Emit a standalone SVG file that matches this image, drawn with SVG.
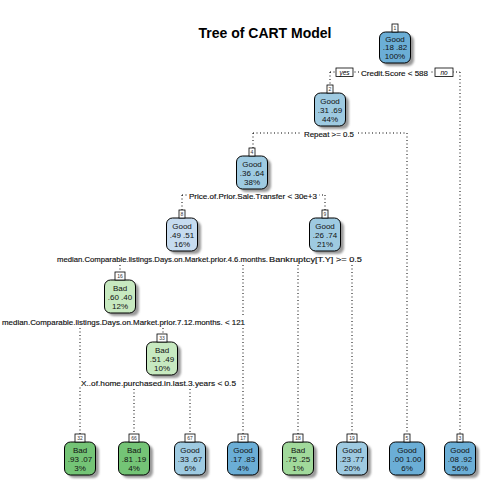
<svg xmlns="http://www.w3.org/2000/svg" width="504" height="504" viewBox="0 0 504 504">
<style>
.bg{fill:#ffffff}
.title{font-family:"Liberation Sans",Arial,sans-serif;font-size:14px;font-weight:bold;fill:#000;text-anchor:middle}
.box{stroke:#000;stroke-width:1}
.sh{fill:#9a9a9a;filter:url(#blur)}
.t{font-family:"Liberation Sans",Arial,sans-serif;font-size:8px;fill:#111;text-anchor:middle}
.lbl{fill:#fff;stroke:#000;stroke-width:0.8}
.n{font-family:"Liberation Sans",Arial,sans-serif;font-size:5px;fill:#333;text-anchor:middle}
.split{font-family:"Liberation Sans",Arial,sans-serif;font-size:7.5px;fill:#111;text-anchor:middle;stroke:#111;stroke-width:0.15}
.conn line{stroke:#000;stroke-width:1;stroke-dasharray:1 2.5}
.yn{fill:#fff;stroke:#000;stroke-width:0.8}
.ynt{font-family:"Liberation Sans",Arial,sans-serif;font-size:6.5px;font-style:italic;fill:#000;text-anchor:middle}
.wb{fill:#fff}
.b1{fill:#6BAED6}.b2{fill:#9ECAE1}.b3{fill:#C6DBEF}
.g1{fill:#74C476}.g2{fill:#A1D99B}.g3{fill:#C7E9C0}
</style>
<defs>
<filter id="blur" x="-20%" y="-20%" width="140%" height="140%"><feGaussianBlur stdDeviation="1.2"/></filter>
</defs>
<rect class="bg" x="0" y="0" width="504" height="504"/>
<text class="title" x="265" y="38">Tree of CART Model</text>

<g id="connectors" class="conn">
<line x1="330" y1="72" x2="460" y2="72"/>
<line x1="330" y1="72" x2="330" y2="85"/>
<line x1="460" y1="72" x2="460" y2="434"/>
<line x1="253" y1="133" x2="407" y2="133"/>
<line x1="253" y1="133" x2="253" y2="148"/>
<line x1="407" y1="133" x2="407" y2="434"/>
<line x1="182" y1="195" x2="325" y2="195"/>
<line x1="182" y1="195" x2="182" y2="210"/>
<line x1="325" y1="195" x2="325" y2="210"/>
<line x1="120" y1="258" x2="243" y2="258"/>
<line x1="120" y1="258" x2="120" y2="272"/>
<line x1="243" y1="258" x2="243" y2="434"/>
<line x1="298" y1="258" x2="352" y2="258"/>
<line x1="298" y1="258" x2="298" y2="434"/>
<line x1="352" y1="258" x2="352" y2="434"/>
<line x1="80" y1="321" x2="163" y2="321"/>
<line x1="80" y1="321" x2="80" y2="434"/>
<line x1="163" y1="321" x2="163" y2="334"/>
<line x1="134" y1="382" x2="190" y2="382"/>
<line x1="134" y1="382" x2="134" y2="434"/>
<line x1="190" y1="382" x2="190" y2="434"/>
</g>

<g id="split-labels">
<rect class="wb" x="359" y="68" width="71" height="9"/>
<text class="split" x="394.5" y="75.5" textLength="67" lengthAdjust="spacingAndGlyphs">Credit.Score &lt; 588</text>
<rect class="yn" x="336" y="68" width="17" height="8.5"/>
<text class="ynt" x="344.5" y="74.8">yes</text>
<rect class="yn" x="435" y="68" width="18" height="8.5"/>
<text class="ynt" x="444" y="74.8">no</text>
<rect class="wb" x="302" y="129" width="54" height="9"/>
<text class="split" x="329" y="136.5" textLength="50" lengthAdjust="spacingAndGlyphs">Repeat &gt;= 0.5</text>
<rect class="wb" x="187" y="191" width="132" height="9"/>
<text class="split" x="253" y="198.5" textLength="128" lengthAdjust="spacingAndGlyphs">Price.of.Prior.Sale.Transfer &lt; 30e+3</text>
<rect class="wb" x="55" y="254" width="310" height="9"/>
<text class="split" x="57" y="261.5" style="text-anchor:start" textLength="211" lengthAdjust="spacingAndGlyphs">median.Comparable.listings.Days.on.Market.prior.4.6.months.</text>
<text class="split" x="315.5" y="261.5" textLength="93" lengthAdjust="spacingAndGlyphs">Bankruptcy[T.Y] &gt;= 0.5</text>
<rect class="wb" x="0" y="317" width="248" height="9"/>
<text class="split" x="123.5" y="324.5" textLength="243" lengthAdjust="spacingAndGlyphs">median.Comparable.listings.Days.on.Market.prior.7.12.months. &lt; 121</text>
<rect class="wb" x="78" y="378" width="161" height="9"/>
<text class="split" x="158.5" y="385.5" textLength="155" lengthAdjust="spacingAndGlyphs">X..of.home.purchased.in.last.3.years &lt; 0.5</text>
</g>

<g id="node1">
<rect class="sh" x="383" y="35" width="31" height="31" rx="6"/>
<rect class="box b1" x="379.5" y="32" width="31" height="31" rx="6"/>
<text class="t" x="395" y="41.5">Good</text>
<text class="t" x="395" y="50">.18  .82</text>
<text class="t" x="395" y="58.5">100%</text>
<rect class="lbl" x="392" y="24" width="6" height="8"/>
<text class="n" x="395" y="30">1</text>
</g>

<g id="node2">
<rect class="sh" x="318" y="96" width="31" height="33" rx="6"/>
<rect class="box b2" x="314.5" y="93" width="31" height="33" rx="6"/>
<text class="t" x="330" y="104">Good</text>
<text class="t" x="330" y="113">.31  .69</text>
<text class="t" x="330" y="122">44%</text>
<rect class="lbl" x="327" y="85" width="6" height="8"/>
<text class="n" x="330" y="91">2</text>
</g>

<g id="node4">
<rect class="sh" x="240" y="159" width="31" height="33" rx="6"/>
<rect class="box b2" x="236.5" y="156" width="31" height="33" rx="6"/>
<text class="t" x="252" y="167">Good</text>
<text class="t" x="252" y="176">.36  .64</text>
<text class="t" x="252" y="185">38%</text>
<rect class="lbl" x="249" y="148" width="6" height="8"/>
<text class="n" x="252" y="154">4</text>
</g>

<g id="node8">
<rect class="sh" x="170" y="221" width="31" height="33" rx="6"/>
<rect class="box b3" x="166.5" y="218" width="31" height="33" rx="6"/>
<text class="t" x="182" y="229">Good</text>
<text class="t" x="182" y="238">.49  .51</text>
<text class="t" x="182" y="247">16%</text>
<rect class="lbl" x="179" y="210" width="6" height="8"/>
<text class="n" x="182" y="216">8</text>
</g>

<g id="node9">
<rect class="sh" x="313" y="221" width="31" height="33" rx="6"/>
<rect class="box b2" x="309.5" y="218" width="31" height="33" rx="6"/>
<text class="t" x="325" y="229">Good</text>
<text class="t" x="325" y="238">.26  .74</text>
<text class="t" x="325" y="247">21%</text>
<rect class="lbl" x="322" y="210" width="6" height="8"/>
<text class="n" x="325" y="216">9</text>
</g>

<g id="node16">
<rect class="sh" x="108" y="283" width="31" height="33" rx="6"/>
<rect class="box g3" x="104.5" y="280" width="31" height="33" rx="6"/>
<text class="t" x="120" y="291">Bad</text>
<text class="t" x="120" y="300">.60  .40</text>
<text class="t" x="120" y="309">12%</text>
<rect class="lbl" x="115" y="272" width="10" height="8"/>
<text class="n" x="120" y="278">16</text>
</g>

<g id="node33">
<rect class="sh" x="150" y="345" width="31" height="33" rx="6"/>
<rect class="box g3" x="146.5" y="342" width="31" height="33" rx="6"/>
<text class="t" x="162" y="353">Bad</text>
<text class="t" x="162" y="362">.51  .49</text>
<text class="t" x="162" y="371">10%</text>
<rect class="lbl" x="157" y="334" width="10" height="8"/>
<text class="n" x="162" y="340">33</text>
</g>

<g id="node32">
<rect class="sh" x="68" y="445" width="31" height="33" rx="6"/>
<rect class="box g1" x="64.5" y="442" width="31" height="33" rx="6"/>
<text class="t" x="80" y="453">Bad</text>
<text class="t" x="80" y="462">.93  .07</text>
<text class="t" x="80" y="471">3%</text>
<rect class="lbl" x="75" y="434" width="10" height="8"/>
<text class="n" x="80" y="440">32</text>
</g>

<g id="node66">
<rect class="sh" x="122" y="445" width="31" height="33" rx="6"/>
<rect class="box g1" x="118.5" y="442" width="31" height="33" rx="6"/>
<text class="t" x="134" y="453">Bad</text>
<text class="t" x="134" y="462">.81  .19</text>
<text class="t" x="134" y="471">4%</text>
<rect class="lbl" x="129" y="434" width="10" height="8"/>
<text class="n" x="134" y="440">66</text>
</g>

<g id="node67">
<rect class="sh" x="178" y="445" width="31" height="33" rx="6"/>
<rect class="box b2" x="174.5" y="442" width="31" height="33" rx="6"/>
<text class="t" x="190" y="453">Good</text>
<text class="t" x="190" y="462">.33  .67</text>
<text class="t" x="190" y="471">6%</text>
<rect class="lbl" x="185" y="434" width="10" height="8"/>
<text class="n" x="190" y="440">67</text>
</g>

<g id="node17">
<rect class="sh" x="231" y="445" width="31" height="33" rx="6"/>
<rect class="box b1" x="227.5" y="442" width="31" height="33" rx="6"/>
<text class="t" x="243" y="453">Good</text>
<text class="t" x="243" y="462">.17  .83</text>
<text class="t" x="243" y="471">4%</text>
<rect class="lbl" x="238" y="434" width="10" height="8"/>
<text class="n" x="243" y="440">17</text>
</g>

<g id="node18">
<rect class="sh" x="286" y="445" width="31" height="33" rx="6"/>
<rect class="box g2" x="282.5" y="442" width="31" height="33" rx="6"/>
<text class="t" x="298" y="453">Bad</text>
<text class="t" x="298" y="462">.75  .25</text>
<text class="t" x="298" y="471">1%</text>
<rect class="lbl" x="293" y="434" width="10" height="8"/>
<text class="n" x="298" y="440">18</text>
</g>

<g id="node19">
<rect class="sh" x="340" y="445" width="31" height="33" rx="6"/>
<rect class="box b2" x="336.5" y="442" width="31" height="33" rx="6"/>
<text class="t" x="352" y="453">Good</text>
<text class="t" x="352" y="462">.23  .77</text>
<text class="t" x="352" y="471">20%</text>
<rect class="lbl" x="347" y="434" width="10" height="8"/>
<text class="n" x="352" y="440">19</text>
</g>

<g id="node5">
<rect class="sh" x="393" y="445" width="33" height="33" rx="6"/>
<rect class="box b1" x="389.5" y="442" width="35" height="33" rx="6"/>
<text class="t" x="407" y="453">Good</text>
<text class="t" x="407" y="462">.00  1.00</text>
<text class="t" x="407" y="471">6%</text>
<rect class="lbl" x="404" y="434" width="6" height="8"/>
<text class="n" x="407" y="440">5</text>
</g>

<g id="node3">
<rect class="sh" x="448" y="445" width="31" height="33" rx="6"/>
<rect class="box b1" x="444.5" y="442" width="31" height="33" rx="6"/>
<text class="t" x="460" y="453">Good</text>
<text class="t" x="460" y="462">.08  .92</text>
<text class="t" x="460" y="471">56%</text>
<rect class="lbl" x="457" y="434" width="6" height="8"/>
<text class="n" x="460" y="440">3</text>
</g>
</svg>
